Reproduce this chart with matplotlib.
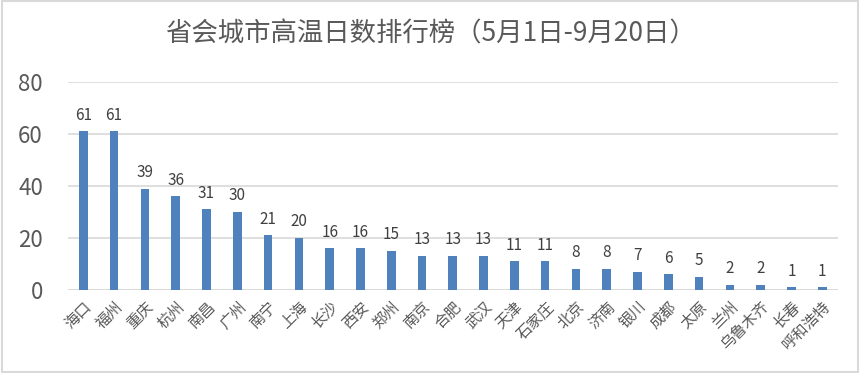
import matplotlib.pyplot as plt
from matplotlib.patches import Rectangle

plt.rcParams['font.family'] = ['Noto Sans CJK SC', 'DejaVu Sans']

cities = ['海口', '福州', '重庆', '杭州', '南昌', '广州', '南宁', '上海', '长沙', '西安',
          '郑州', '南京', '合肥', '武汉', '天津', '石家庄', '北京', '济南', '银川', '成都',
          '太原', '兰州', '乌鲁木齐', '长春', '呼和浩特']
days = [61, 61, 39, 36, 31, 30, 21, 20, 16, 16,
        15, 13, 13, 13, 11, 11, 8, 8, 7, 6,
        5, 2, 2, 1, 1]
yticks = [0, 20, 40, 60, 80]

grey = '#595959'

fig = plt.figure(figsize=(8.6, 3.73), dpi=100)
ax = fig.add_axes([0.079, 0.2225, 0.895, 0.5575])

x = range(len(cities))
bars = ax.bar(x, days, width=0.28, color='#4F81BD', zorder=3)
for xi, v in zip(x, days):
    ax.text(xi, v + 3, str(v), ha='center', va='bottom', fontsize=11, color='#404040')

ax.set_ylim(0, 80)
ax.set_xlim(-0.5, len(cities) - 0.5)
ax.set_yticks(yticks)
ax.set_yticklabels([str(t) for t in yticks], fontsize=16, color=grey)
ax.grid(axis='y', color='#D9D9D9', linewidth=1.2, zorder=0)
ax.set_xticks(list(x))
ax.set_xticklabels(cities, rotation=45, ha='right', va='top', rotation_mode='anchor',
                   fontsize=11, color=grey)
ax.tick_params(axis='both', length=0)
ax.tick_params(axis='y', pad=18)
ax.tick_params(axis='x', pad=6)
for s in ax.spines.values():
    s.set_visible(False)
ax.axhline(0, color='#D9D9D9', linewidth=1.2, zorder=2)

fig.text(0.5, 0.91, '省会城市高温日数排行榜（5月1日-9月20日）', ha='center', va='center',
         fontsize=19, color=grey)

fig.patches.append(Rectangle((0.002, 0.003), 0.996, 0.994, transform=fig.transFigure,
                             fill=False, edgecolor='#D9D9D9', linewidth=1.5))

fig.savefig('out.png', dpi=100)
